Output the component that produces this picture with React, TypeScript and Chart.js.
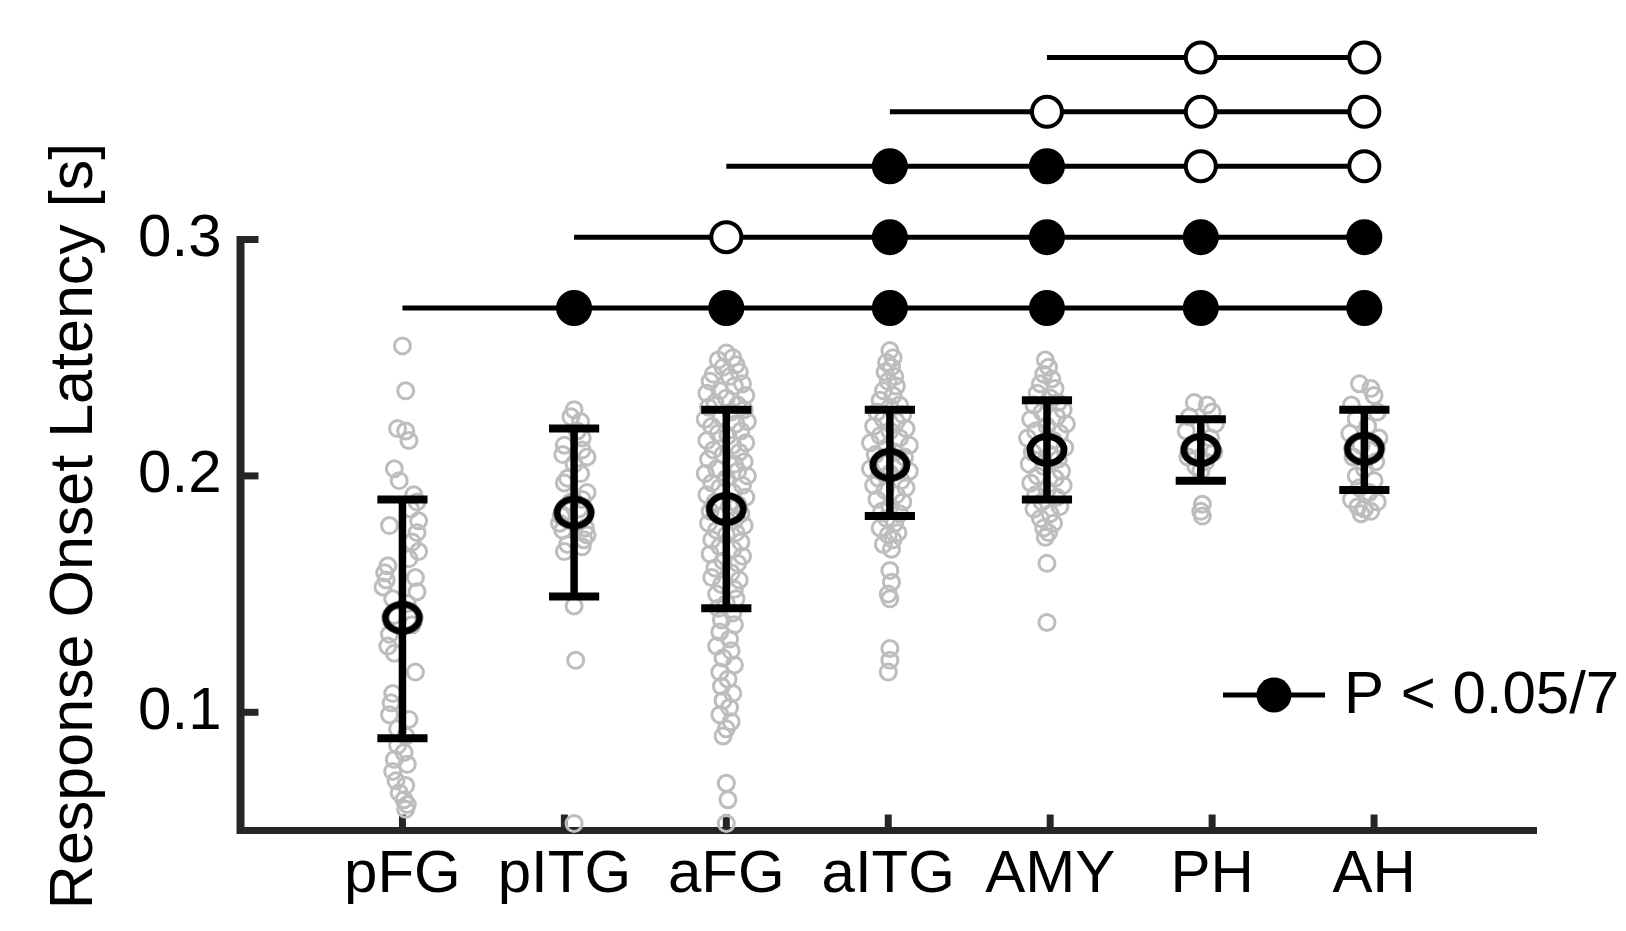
import React, { useEffect, useRef } from "react";
import { Chart, registerables } from "chart.js";

Chart.register(...registerables);

// ---------------- data ----------------
const categories = ["pFG", "pITG", "aFG", "aITG", "AMY", "PH", "AH"];
const tickPositions = [1, 2, 3, 4, 5, 6, 7];
const groupPositions = [1.0, 2.06, 3.0, 4.01, 4.98, 5.93, 6.94];
const meanLatency = [0.14, 0.1845, 0.186, 0.2047, 0.211, 0.211, 0.2115];
const errLower = [0.089, 0.149, 0.144, 0.183, 0.19, 0.198, 0.194];
const errUpper = [0.19, 0.22, 0.228, 0.228, 0.232, 0.224, 0.228];
const yTickValues = [0.1, 0.2, 0.3];
const yAxisRange = [0.05, 0.3];

// [horizontal jitter, latency]
const pfgPoints = [
  [0.0, 0.255], [0.02, 0.236], [-0.03, 0.22], [0.02, 0.219], [0.04, 0.215], [-0.05, 0.203], [-0.02, 0.198],
  [0.07, 0.192], [0.09, 0.189], [0.05, 0.186], [0.1, 0.181], [-0.08, 0.179], [0.09, 0.176], [0.06, 0.172],
  [0.1, 0.168], [0.04, 0.165], [-0.09, 0.162], [-0.11, 0.159], [-0.1, 0.156], [-0.12, 0.153], [0.08, 0.157],
  [0.09, 0.151], [-0.06, 0.148], [0.03, 0.146], [-0.05, 0.141], [0.06, 0.137], [-0.08, 0.133], [-0.09, 0.128],
  [-0.05, 0.125], [0.08, 0.117], [-0.06, 0.108], [-0.07, 0.104], [-0.08, 0.099], [0.04, 0.097], [-0.03, 0.093],
  [0.02, 0.09], [-0.03, 0.086], [0.01, 0.083], [-0.05, 0.08], [0.03, 0.078], [-0.06, 0.075], [-0.04, 0.071],
  [0.02, 0.069], [-0.02, 0.066], [0.01, 0.063], [0.03, 0.061], [0.02, 0.059],
];
const pitgPoints = [
  [0.0, 0.228], [-0.02, 0.225], [0.04, 0.223], [0.02, 0.219], [0.05, 0.216], [-0.06, 0.213], [0.05, 0.211],
  [-0.07, 0.209], [0.08, 0.208], [0.0, 0.205], [0.04, 0.201], [-0.04, 0.199], [-0.06, 0.197], [0.08, 0.193],
  [0.05, 0.19], [-0.02, 0.189], [0.03, 0.186], [-0.08, 0.183], [-0.09, 0.18], [0.07, 0.178], [-0.07, 0.177],
  [0.08, 0.175], [0.06, 0.173], [-0.04, 0.171], [0.05, 0.17], [-0.06, 0.168], [0.0, 0.145], [0.01, 0.122],
  [0.0, 0.053],
];
const afgPoints = [
  [0.0, 0.252], [0.04, 0.25], [-0.05, 0.249], [0.06, 0.247], [-0.02, 0.246], [0.08, 0.244], [-0.08, 0.243],
  [0.02, 0.242], [-0.1, 0.24], [0.1, 0.239], [0.05, 0.238], [-0.04, 0.236], [-0.12, 0.235], [0.12, 0.234],
  [0.0, 0.233], [-0.07, 0.231], [0.07, 0.23], [-0.11, 0.229], [0.11, 0.228], [0.03, 0.227], [-0.03, 0.225],
  [-0.13, 0.224], [0.13, 0.223], [0.06, 0.222], [-0.09, 0.221], [0.09, 0.219], [-0.05, 0.218], [0.01, 0.217],
  [-0.12, 0.215], [0.12, 0.214], [0.04, 0.213], [-0.08, 0.211], [0.08, 0.21], [-0.02, 0.209], [-0.11, 0.207],
  [0.11, 0.206], [0.05, 0.205], [-0.06, 0.203], [0.07, 0.202], [-0.13, 0.201], [0.13, 0.2], [0.0, 0.199],
  [-0.09, 0.197], [0.1, 0.196], [-0.04, 0.195], [0.04, 0.193], [-0.12, 0.192], [0.12, 0.191], [-0.07, 0.189],
  [0.07, 0.188], [0.02, 0.187], [-0.1, 0.185], [0.09, 0.184], [-0.03, 0.183], [0.05, 0.181], [-0.11, 0.18],
  [0.11, 0.179], [-0.06, 0.177], [0.06, 0.176], [0.0, 0.175], [-0.09, 0.173], [0.09, 0.172], [-0.04, 0.17],
  [0.04, 0.169], [-0.1, 0.167], [0.1, 0.166], [-0.02, 0.164], [0.07, 0.163], [-0.07, 0.161], [0.03, 0.159],
  [-0.09, 0.157], [0.08, 0.156], [-0.03, 0.154], [0.05, 0.152], [-0.06, 0.15], [0.06, 0.148], [0.0, 0.146],
  [-0.05, 0.144], [0.04, 0.142], [-0.03, 0.139], [0.05, 0.137], [-0.04, 0.134], [0.02, 0.131], [-0.06, 0.128],
  [0.03, 0.126], [-0.02, 0.123], [0.05, 0.12], [-0.04, 0.117], [0.01, 0.114], [-0.03, 0.111], [0.04, 0.108],
  [-0.02, 0.105], [0.02, 0.102], [-0.04, 0.099], [0.03, 0.096], [0.0, 0.093], [-0.02, 0.09], [0.0, 0.07],
  [0.01, 0.063], [0.0, 0.053],
];
const aitgPoints = [
  [0.0, 0.253], [0.02, 0.25], [-0.02, 0.248], [0.01, 0.246], [-0.03, 0.244], [0.03, 0.242], [-0.01, 0.24],
  [0.04, 0.238], [-0.04, 0.236], [0.02, 0.234], [-0.06, 0.232], [0.06, 0.23], [0.0, 0.229], [-0.08, 0.227],
  [0.08, 0.226], [-0.04, 0.224], [0.04, 0.223], [-0.1, 0.221], [0.1, 0.22], [0.0, 0.219], [-0.06, 0.217],
  [0.06, 0.216], [-0.12, 0.214], [0.12, 0.213], [-0.02, 0.212], [0.03, 0.21], [-0.09, 0.209], [0.09, 0.208],
  [-0.05, 0.206], [0.05, 0.205], [-0.12, 0.203], [0.12, 0.202], [0.0, 0.201], [-0.07, 0.199], [0.07, 0.198],
  [-0.1, 0.196], [0.1, 0.195], [-0.03, 0.194], [0.04, 0.192], [-0.08, 0.19], [0.08, 0.189], [0.0, 0.187],
  [-0.05, 0.185], [0.06, 0.184], [-0.02, 0.182], [0.03, 0.18], [-0.06, 0.178], [0.05, 0.176], [-0.01, 0.175],
  [0.02, 0.173], [-0.04, 0.171], [0.01, 0.169], [0.0, 0.16], [0.01, 0.155], [-0.01, 0.15], [0.0, 0.148],
  [0.0, 0.127], [0.0, 0.122], [-0.01, 0.117],
];
const amyPoints = [
  [-0.01, 0.249], [0.01, 0.246], [-0.02, 0.243], [0.03, 0.241], [-0.04, 0.239], [0.05, 0.237], [-0.06, 0.235],
  [0.02, 0.233], [0.07, 0.231], [-0.08, 0.23], [0.1, 0.228], [-0.03, 0.227], [0.06, 0.225], [-0.1, 0.224],
  [0.12, 0.222], [0.0, 0.221], [-0.07, 0.219], [0.08, 0.218], [-0.12, 0.216], [0.04, 0.215], [-0.05, 0.213],
  [0.11, 0.212], [-0.09, 0.21], [0.02, 0.209], [0.07, 0.207], [-0.11, 0.205], [-0.02, 0.204], [0.09, 0.202],
  [-0.06, 0.2], [0.05, 0.199], [-0.1, 0.197], [0.1, 0.196], [0.0, 0.194], [-0.07, 0.192], [0.06, 0.191],
  [-0.03, 0.189], [0.08, 0.187], [-0.08, 0.186], [0.02, 0.184], [-0.04, 0.182], [0.04, 0.18], [-0.02, 0.178],
  [0.01, 0.176], [-0.01, 0.174], [0.0, 0.163], [0.0, 0.138],
];
const phPoints = [
  [-0.04, 0.231], [0.04, 0.23], [0.07, 0.227], [-0.07, 0.225], [0.09, 0.222], [-0.09, 0.219], [0.06, 0.216],
  [-0.06, 0.213], [0.08, 0.21], [-0.08, 0.208], [0.03, 0.206], [-0.03, 0.204], [0.0, 0.202], [0.01, 0.188],
  [0.0, 0.185], [0.01, 0.183],
];
const ahPoints = [
  [-0.03, 0.239], [0.04, 0.237], [0.06, 0.234], [-0.08, 0.23], [0.08, 0.227], [-0.05, 0.224], [0.02, 0.221],
  [-0.09, 0.218], [0.09, 0.216], [-0.02, 0.213], [0.05, 0.211], [-0.07, 0.208], [0.07, 0.206], [0.0, 0.203],
  [-0.05, 0.2], [0.06, 0.198], [-0.03, 0.195], [0.03, 0.193], [-0.08, 0.19], [0.08, 0.189], [-0.04, 0.187],
  [0.0, 0.186], [0.04, 0.185], [-0.02, 0.184],
];
const groupPoints = [pfgPoints, pitgPoints, afgPoints, aitgPoints, amyPoints, phPoints, ahPoints];

// pairwise comparison rows: reference group, level, significance of each later group (1 = P < 0.05/7)
const rowLevels = [0.271, 0.301, 0.331, 0.354, 0.377];
const rowReference = [0, 1, 2, 3, 4];
const rowSignificant = [
  [1, 1, 1, 1, 1, 1],
  [0, 1, 1, 1, 1],
  [1, 1, 0, 0],
  [0, 0, 0],
  [0, 0],
];

const yTitle = "Response Onset Latency [s]";
const legendLabel = "P < 0.05/7";

// ---------------- styling ----------------
const FONT = '"Liberation Sans", Arial, Helvetica, sans-serif';
const AXIS_COLOR = "#262626";
const POINT_GRAY = "#bdbdbd";
const CAP_HALF = 0.155;

function makeEllipseMarker(): HTMLCanvasElement {
  const c = document.createElement("canvas");
  c.width = 48;
  c.height = 42;
  const g = c.getContext("2d")!;
  g.lineWidth = 7;
  g.strokeStyle = "#000";
  g.beginPath();
  g.ellipse(24, 21, 17, 13.5, 0, 0, Math.PI * 2);
  g.stroke();
  return c;
}

const decorPlugin = {
  id: "decor",
  beforeDatasetsDraw(chart: any) {
    const { ctx, chartArea, scales } = chart;
    const x = scales.x;
    const y = scales.y;
    ctx.save();
    ctx.strokeStyle = AXIS_COLOR;
    ctx.lineCap = "butt";
    // y axis line (only over the labelled range)
    ctx.lineWidth = 8;
    ctx.beginPath();
    ctx.moveTo(chartArea.left, y.getPixelForValue(yAxisRange[1]) - 3.5);
    ctx.lineTo(chartArea.left, y.getPixelForValue(yAxisRange[0]) + 3.5);
    ctx.stroke();
    // inward tick marks
    ctx.lineWidth = 7;
    yTickValues.forEach((v) => {
      const py = y.getPixelForValue(v);
      ctx.beginPath();
      ctx.moveTo(chartArea.left, py);
      ctx.lineTo(chartArea.left + 18, py);
      ctx.stroke();
    });
    tickPositions.forEach((v) => {
      const px = x.getPixelForValue(v);
      ctx.beginPath();
      ctx.moveTo(px, chartArea.bottom);
      ctx.lineTo(px, chartArea.bottom - 16);
      ctx.stroke();
    });
    ctx.restore();
  },
  afterDraw(chart: any) {
    const { ctx, chartArea, scales } = chart;
    const y = scales.y;
    ctx.save();
    // y-axis title, centred on the drawn axis
    ctx.fillStyle = "#000";
    ctx.font = `61px ${FONT}`;
    ctx.textAlign = "center";
    ctx.textBaseline = "alphabetic";
    const cy = (y.getPixelForValue(yAxisRange[0]) + y.getPixelForValue(yAxisRange[1])) / 2 - 9;
    ctx.translate(chartArea.left - 148.5, cy);
    ctx.rotate(-Math.PI / 2);
    ctx.fillText(yTitle, 0, 0);
    ctx.restore();

    // legend
    ctx.save();
    const ly = 695;
    ctx.strokeStyle = "#000";
    ctx.lineWidth = 5;
    ctx.beginPath();
    ctx.moveTo(1223, ly);
    ctx.lineTo(1325, ly);
    ctx.stroke();
    ctx.beginPath();
    ctx.arc(1274, ly, 17.5, 0, Math.PI * 2);
    ctx.fillStyle = "#000";
    ctx.fill();
    ctx.font = `60px ${FONT}`;
    ctx.textAlign = "left";
    ctx.textBaseline = "alphabetic";
    ctx.fillText(legendLabel, 1344, 713);
    ctx.restore();
  },
};

export default function App() {
  const canvasRef = useRef<HTMLCanvasElement | null>(null);

  useEffect(() => {
    const canvas = canvasRef.current;
    if (!canvas) return;

    const datasets: any[] = [];

    // comparison rows (on top)
    rowLevels.forEach((level, r) => {
      const ref = rowReference[r];
      const sig = rowSignificant[r];
      const data = [{ x: groupPositions[ref], y: level }];
      const radii = [0];
      const fills = ["#000"];
      sig.forEach((s, k) => {
        data.push({ x: groupPositions[ref + 1 + k], y: level });
        radii.push(s ? 16 : 15);
        fills.push(s ? "#000" : "#fff");
      });
      datasets.push({
        data,
        showLine: true,
        borderColor: "#000",
        borderWidth: 5,
        pointRadius: radii,
        pointBackgroundColor: fills,
        pointBorderColor: "#000",
        pointBorderWidth: 4,
        clip: false,
        order: 0,
      });
    });

    // means
    const ellipse = makeEllipseMarker();
    datasets.push({
      data: groupPositions.map((gx, i) => ({ x: gx, y: meanLatency[i] })),
      pointStyle: ellipse,
      pointRadius: 18,
      showLine: false,
      clip: false,
      order: 1,
    });

    // error bars
    groupPositions.forEach((gx, i) => {
      datasets.push({
        data: [
          { x: gx, y: errLower[i] },
          { x: gx, y: errUpper[i] },
        ],
        showLine: true,
        borderColor: "#000",
        borderWidth: 7.5,
        borderCapStyle: "butt",
        pointRadius: 0,
        clip: false,
        order: 2,
      });
      [errLower[i], errUpper[i]].forEach((v) => {
        datasets.push({
          data: [
            { x: gx - CAP_HALF, y: v },
            { x: gx + CAP_HALF, y: v },
          ],
          showLine: true,
          borderColor: "#000",
          borderWidth: 8,
          borderCapStyle: "butt",
          pointRadius: 0,
          clip: false,
          order: 2,
        });
      });
    });

    // individual electrodes
    groupPoints.forEach((pts, i) => {
      datasets.push({
        data: pts.map(([dx, v]) => ({ x: groupPositions[i] + dx, y: v })),
        showLine: false,
        pointRadius: 8,
        pointBorderWidth: 3,
        pointBorderColor: POINT_GRAY,
        pointBackgroundColor: "rgba(0,0,0,0)",
        clip: false,
        order: 3,
      });
    });

    const chart = new Chart(canvas, {
      type: "scatter",
      data: { datasets },
      options: {
        animation: false,
        responsive: false,
        events: [],
        layout: { padding: { left: 0, right: 90, top: 26.74, bottom: 0 } },
        elements: { line: { tension: 0 } },
        plugins: {
          legend: { display: false },
          tooltip: { enabled: false },
          title: { display: false },
        },
        scales: {
          x: {
            type: "linear",
            min: 0,
            max: 8,
            afterBuildTicks: (s: any) => {
              s.ticks = tickPositions.map((v) => ({ value: v }));
            },
            afterFit: (s: any) => {
              s.height = 100.5;
              s.paddingLeft = 0;
              s.paddingRight = 0;
              s.paddingTop = 0;
              s.paddingBottom = 0;
            },
            ticks: {
              callback: (_v: any, i: number) => categories[i],
              font: { family: FONT, size: 60 },
              color: "#000",
              padding: 9,
              maxRotation: 0,
              autoSkip: false,
            },
            grid: { display: false, drawTicks: false },
            border: { display: true, color: AXIS_COLOR, width: 7 },
          },
          y: {
            type: "linear",
            min: 0.05,
            max: 0.39,
            afterBuildTicks: (s: any) => {
              s.ticks = yTickValues.map((v) => ({ value: v }));
            },
            afterFit: (s: any) => {
              s.width = 240.5;
              s.paddingLeft = 0;
              s.paddingRight = 0;
              s.paddingTop = 0;
              s.paddingBottom = 0;
            },
            ticks: {
              callback: (v: any) => Number(v).toFixed(1),
              font: { family: FONT, size: 60 },
              color: "#000",
              padding: 19,
              autoSkip: false,
            },
            grid: { display: false, drawTicks: false },
            border: { display: false },
          },
        },
      },
      plugins: [decorPlugin],
    });

    return () => chart.destroy();
  }, []);

  return (
    <div style={{ position: "fixed", left: 0, top: 0, width: 1626, height: 931, background: "#fff" }}>
      <canvas ref={canvasRef} width={1626} height={931} style={{ display: "block" }} />
    </div>
  );
}
